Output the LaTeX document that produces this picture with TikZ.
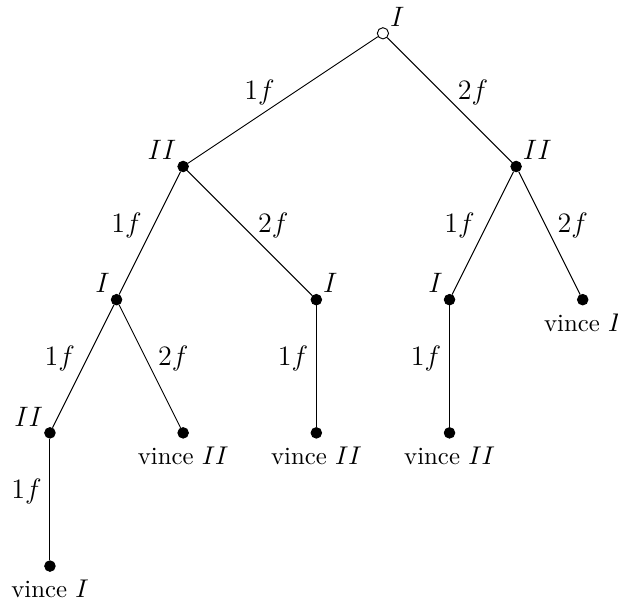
\documentclass[tikz,border=0pt]{standalone}
\usepackage{amsmath,amssymb}
\usepackage{tikz}

\begin{document}
\begin{tikzpicture}[font=\large,
		dot/.style={circle, fill, draw, inner sep=0pt, minimum size=4.5pt},
		opendot/.style={circle, draw, fill=white, inner sep=0pt, minimum size=4.8pt},
		lbl/.style={midway, yshift=3.4pt},
		leaf/.style={inner sep=3.5pt, font=\fontsize{10.6}{12.8}\selectfont},
		every label/.style={inner sep=1pt}]
		\useasboundingbox (-0.75,-8.51) rectangle (8.53,0.5);
		% players
		\node[opendot, label=above right:$I$] (r) at (5,0) {};
		\node[dot, label=above left:$II$] (a) at (2,-2) {};
		\node[dot, label=above right:$II$] (b) at (7,-2) {};
		\node[dot, label=above left:$I$] (aa) at (1,-4) {};
		\node[dot, label=above right:$I$] (ab) at (4,-4) {};
		\node[dot, label=above left:$I$] (ba) at (6,-4) {};
		\node[dot, label={[leaf]below:vince $I$}] (bb) at (8,-4) {};
		\node[dot, label=above left:$II$] (aaa) at (0,-6) {};
		\node[dot, label={[leaf]below:vince $II$}] (aab) at (2,-6) {};
		\node[dot, label={[leaf]below:vince $II$}] (aba) at (4,-6) {};
		\node[dot, label={[leaf]below:vince $II$}] (baa) at (6,-6) {};
		\node[dot, label={[leaf]below:vince $I$}] (aaaa) at (0,-8) {};
		% moves
		\draw (r) -- node[lbl, left] {$1f$} (a);
		\draw (r) -- node[lbl, right] {$2f$} (b);
		\draw (a) -- node[lbl, left] {$1f$} (aa);
		\draw (a) -- node[lbl, right] {$2f$} (ab);
		\draw (b) -- node[lbl, left] {$1f$} (ba);
		\draw (b) -- node[lbl, right] {$2f$} (bb);
		\draw (aa) -- node[lbl, left] {$1f$} (aaa);
		\draw (aa) -- node[lbl, right] {$2f$} (aab);
		\draw (ab) -- node[lbl, left] {$1f$} (aba);
		\draw (ba) -- node[lbl, left] {$1f$} (baa);
		\draw (aaa) -- node[lbl, left] {$1f$} (aaaa);
	\end{tikzpicture}
\end{document}
